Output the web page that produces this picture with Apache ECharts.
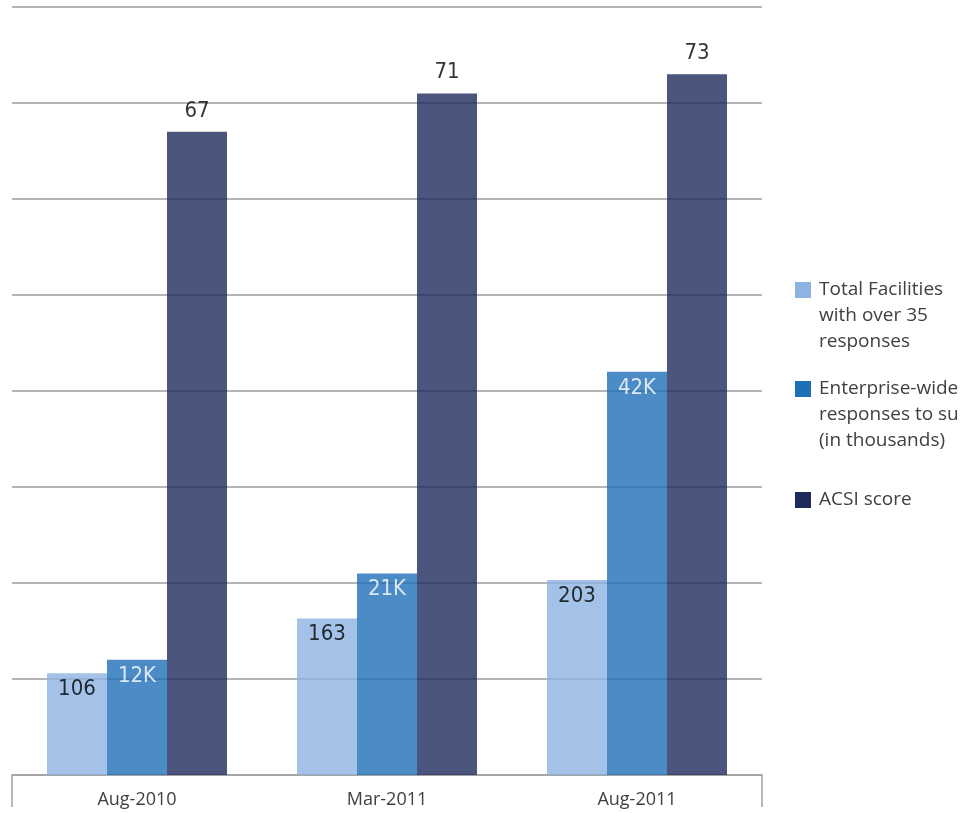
<!DOCTYPE html>
<html>
<head>
<meta charset="utf-8">
<script src="https://cdn.jsdelivr.net/npm/echarts@6/dist/echarts.min.js"></script>
<style>
  html, body { margin: 0; padding: 0; background: #fff; }
  #chart { width: 960px; height: 813px; }
</style>
</head>
<body>
<div id="chart"></div>
<script>
// ---- data ----
const categories = ['Aug-2010', 'Mar-2011', 'Aug-2011'];
const totalFacilities = [106, 163, 203];      // facilities with over 35 responses
const enterpriseResponses = [12, 21, 42];     // thousands
const acsiScore = [67, 71, 73];
const seriesNames = [
  'Total Facilities with over 35 responses',
  'Enterprise-wide responses to survey (in thousands)',
  'ACSI score'
];
const legendLines = {
  'Total Facilities with over 35 responses': '\n\nTotal Facilities\nwith over 35\nresponses',
  'Enterprise-wide responses to survey (in thousands)': '\n\nEnterprise-wide\nresponses to survey\n(in thousands)',
  'ACSI score': 'ACSI score'
};

const colors = ['#8DB3E2', '#1F6FB8', '#1F2A5C'];
const labelFont = '"Liberation Sans Narrow", "DejaVu Sans Condensed", "Open Sans", sans-serif';
const textFont = '"Open Sans", "Noto Sans", sans-serif';

const chart = echarts.init(document.getElementById('chart'), null, { renderer: 'canvas' });

function legendFor(name, top) {
  return {
    data: [name],
    orient: 'vertical',
    left: 795,
    top: top,
    padding: 0,
    itemGap: 0,
    itemWidth: 16,
    itemHeight: 16,
    icon: 'rect',
    selectedMode: false,
    itemStyle: { opacity: 1 },
    formatter: n => legendLines[n],
    textStyle: {
      fontFamily: textFont,
      fontSize: 19,
      color: '#404040',
      lineHeight: 26,
      padding: [0, 0, 0, 3]
    }
  };
}

const option = {
  animation: false,
  backgroundColor: '#ffffff',
  grid: { left: 12, right: 198, top: 7, bottom: 38, containLabel: false },
  legend: [
    legendFor(seriesNames[0], 225),
    legendFor(seriesNames[1], 324),
    legendFor(seriesNames[2], 487)
  ],
  xAxis: [
    {
      type: 'category',
      data: categories,
      axisLine: { show: true, lineStyle: { color: '#A0A0A0', width: 1.5 } },
      axisTick: { show: false },
      axisLabel: { fontFamily: textFont, fontSize: 18, color: '#404040', margin: 16 }
    },
    {
      type: 'value',
      min: 0, max: 1, interval: 1,
      position: 'bottom',
      axisLine: { show: false },
      axisLabel: { show: false },
      splitLine: { show: false },
      axisTick: { show: true, length: 32, inside: false, lineStyle: { color: '#A0A0A0', width: 1.5 } }
    }
  ],
  yAxis: [
    {
      type: 'value', min: 0, max: 800, interval: 100,
      axisLine: { show: false }, axisTick: { show: false }, axisLabel: { show: false },
      splitLine: { show: true, lineStyle: { color: '#9C9C9C', width: 1.5 } }
    },
    {
      type: 'value', min: 0, max: 80, interval: 10, show: false,
      splitLine: { show: false }
    }
  ],
  series: [
    {
      name: seriesNames[0], type: 'bar', xAxisIndex: 0, yAxisIndex: 0,
      data: totalFacilities, barWidth: 60, barGap: '0%',
      itemStyle: { color: colors[0], opacity: 0.8 },
      label: { show: true, position: 'insideTop', distance: 5, color: '#000', fontFamily: labelFont, fontSize: 22, formatter: '{c}' }
    },
    {
      name: seriesNames[1], type: 'bar', xAxisIndex: 0, yAxisIndex: 1,
      data: enterpriseResponses, barWidth: 60, barGap: '0%',
      itemStyle: { color: colors[1], opacity: 0.8 },
      label: { show: true, position: 'insideTop', distance: 5, color: '#fff', fontFamily: labelFont, fontSize: 22, formatter: '{c}K' }
    },
    {
      name: seriesNames[2], type: 'bar', xAxisIndex: 0, yAxisIndex: 1,
      data: acsiScore, barWidth: 60, barGap: '0%',
      itemStyle: { color: colors[2], opacity: 0.8 },
      label: { show: true, position: 'top', distance: 10, color: '#000', fontFamily: labelFont, fontSize: 22, formatter: '{c}' }
    }
  ]
};

chart.setOption(option);
</script>
</body>
</html>
